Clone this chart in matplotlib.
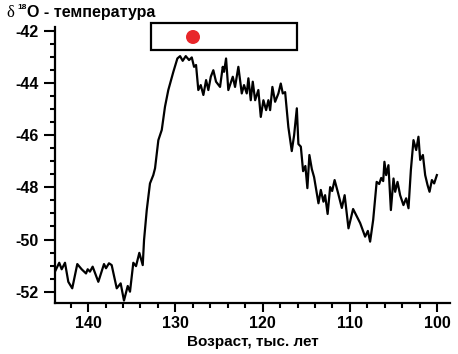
import matplotlib
matplotlib.use("Agg")
import matplotlib.pyplot as plt
from matplotlib.patches import Rectangle, Ellipse
from matplotlib.ticker import MultipleLocator

age = [143.80, 143.31, 143.03, 142.65, 142.27, 141.82, 141.24, 140.74, 140.24, 140.05,
       139.79, 139.48, 138.83, 138.18, 137.95, 137.61, 137.30, 136.72, 136.27, 135.89,
       135.46, 135.20, 134.82, 134.51, 134.13, 133.74, 133.59, 133.28, 132.91, 132.53,
       132.33, 131.95, 131.56, 131.19, 130.81, 130.23, 129.77, 129.46, 129.16, 128.81,
       128.43, 128.12, 127.86, 127.63, 127.37, 127.09, 126.79, 126.48, 126.22, 125.94,
       125.65, 125.34, 124.88, 124.57, 124.42, 124.19, 123.93, 123.42, 123.16, 122.78,
       122.39, 122.13, 121.82, 121.63, 121.36, 121.13, 120.86, 120.49, 120.21, 119.91,
       119.60, 119.34, 119.14, 118.88, 118.57, 118.19, 117.92, 117.69, 117.42, 117.05,
       116.66, 116.39, 116.08, 115.90, 115.62, 115.36, 115.10, 114.87, 114.64, 114.36,
       114.10, 113.60, 113.33, 113.03, 112.84, 112.55, 112.26, 112.03, 111.75, 111.35,
       110.92, 110.60, 110.16, 109.63, 108.82, 108.25, 107.94, 107.68, 107.33, 106.93,
       106.64, 106.41, 106.18, 106.04, 105.84, 105.58, 105.30, 105.00, 104.81, 104.54,
       104.24, 103.86, 103.55, 103.28, 103.01, 102.71, 102.40, 102.14, 101.94, 101.63,
       101.37, 101.10, 100.87, 100.60, 100.34, 100.03]

d18o = [-51.23, -50.89, -51.14, -50.89, -51.62, -51.87, -50.94, -51.14, -51.30, -51.14,
        -51.23, -51.04, -51.62, -50.94, -51.10, -50.91, -50.98, -51.87, -51.68, -52.34,
        -51.78, -52.00, -50.89, -51.02, -50.51, -50.98, -50.02, -48.87, -47.85, -47.53,
        -47.27, -46.19, -45.80, -44.91, -44.27, -43.57, -43.06, -42.97, -43.15, -42.97,
        -43.12, -43.02, -43.38, -43.31, -44.27, -44.08, -44.46, -43.89, -44.27, -43.76,
        -43.51, -43.95, -44.15, -43.38, -43.57, -43.06, -44.27, -43.76, -44.15, -43.38,
        -44.40, -44.08, -44.40, -43.82, -44.66, -43.95, -44.66, -44.27, -45.30, -44.66,
        -45.04, -44.66, -45.04, -44.15, -44.72, -44.40, -44.02, -44.40, -44.35, -45.69,
        -46.61, -46.00, -44.97, -46.34, -46.44, -47.38, -47.18, -48.03, -46.76, -47.30,
        -47.61, -48.61, -48.10, -48.55, -48.30, -49.02, -47.99, -48.14, -47.72, -48.22,
        -48.79, -48.30, -49.57, -48.83, -49.37, -49.89, -49.67, -50.08, -49.25, -47.79,
        -47.87, -47.64, -47.76, -47.02, -47.53, -47.15, -48.87, -47.66, -48.17, -47.79,
        -48.30, -48.68, -48.42, -48.80, -47.34, -46.19, -46.57, -46.06, -46.95, -46.76,
        -47.53, -47.91, -48.17, -47.72, -47.85, -47.53]

x_ticks = [140, 130, 120, 110, 100]
y_ticks = [-42, -44, -46, -48, -50, -52]
title_delta = "\u03b4"
title_sup = "18"
title_rest = "O - температура"
x_label = "Возраст, тыс. лет"

plt.rcParams['font.family'] = ['Liberation Sans', 'DejaVu Sans']

fig = plt.figure(figsize=(4.58, 3.54), dpi=100)
ax = fig.add_axes([0.120, 0.145, 0.863, 0.779])
ax.plot(age, d18o, color='black', lw=1.6)

ax.set_xlim(143.8, 98.5)
ax.set_ylim(-52.42, -41.85)
ax.set_xticks(x_ticks)
ax.set_yticks(y_ticks)
ax.set_xticklabels([str(t) for t in x_ticks])
ax.set_yticklabels([str(t) for t in y_ticks])
ax.xaxis.set_minor_locator(MultipleLocator(2))
ax.yaxis.set_minor_locator(MultipleLocator(0.5))

for s in ['top', 'right']:
    ax.spines[s].set_visible(False)
for s in ['left', 'bottom']:
    ax.spines[s].set_linewidth(1.6)

ax.tick_params(axis='x', which='major', direction='out', length=6.5, width=1.5, pad=3,
               labelsize=11.5)
ax.tick_params(axis='y', which='major', direction='out', length=8, width=1.5, pad=4,
               labelsize=11.5)
ax.tick_params(which='minor', direction='out', length=3.5, width=1.5)
for lab in ax.get_xticklabels() + ax.get_yticklabels():
    lab.set_fontweight('bold')

ax.set_xlabel(x_label, fontsize=11, fontweight='bold', labelpad=3)

fig.text(0.015, 0.952, title_delta, family=['Liberation Serif', 'DejaVu Serif'],
         fontsize=12, ha='left', va='baseline')
fig.text(0.037, 0.975, title_sup, fontsize=6, fontweight='bold', ha='left', va='baseline')
fig.text(0.060, 0.952, title_rest, fontsize=11.5, fontweight='bold', ha='left', va='baseline')

box = Rectangle((0.3297, 0.8588), 0.3188, 0.0762, transform=fig.transFigure,
                facecolor='white', edgecolor='black', lw=1.6, zorder=5)
fig.add_artist(box)
dot = Ellipse((0.4214, 0.8955), 14 / 458, 14 / 354, transform=fig.transFigure,
              facecolor='#e8262a', edgecolor='none', zorder=6)
fig.add_artist(dot)

fig.savefig('out.png', dpi=100)
